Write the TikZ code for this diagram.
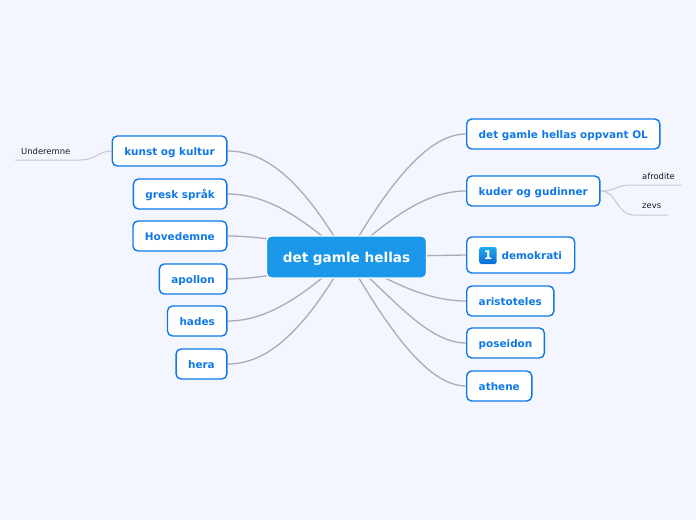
\documentclass[tikz,border=0pt]{standalone}
\usepackage{fontspec}
\setmainfont{DejaVu Sans}
\usepackage{xcolor}
\usetikzlibrary{backgrounds,positioning}
\definecolor{pagebg}{HTML}{F3F6FF}
\definecolor{rootblue}{HTML}{1A97E8}
\definecolor{topicblue}{HTML}{0F78E6}
\definecolor{linkgray}{HTML}{ABABB4}
\definecolor{sublink}{HTML}{C6C6CE}
\definecolor{icontop}{HTML}{22A8F0}
\definecolor{iconbot}{HTML}{0A6ED2}

\begin{document}
\begin{tikzpicture}[x=1pt,y=-1pt,
  root/.style={draw=white,line width=1.2pt,fill=rootblue,rounded corners=5pt,text=white,
               font=\fontsize{13.6}{16}\selectfont\bfseries,minimum width=160pt,minimum height=42pt,
               inner sep=0pt,text height=10pt,text depth=0pt},
  topic/.style={draw=topicblue,line width=1.4pt,fill=white,rounded corners=5pt,text=topicblue,
                font=\fontsize{10.45}{13}\selectfont\bfseries,minimum height=30pt,inner xsep=12pt,
                inner ysep=0pt,text height=8pt,text depth=0pt},
  sub/.style={font=\fontsize{8.4}{10}\selectfont,text=black!90,inner sep=0pt},
  icon/.style={top color=icontop,bottom color=iconbot,rounded corners=2pt,text=white,minimum size=17pt,
               inner sep=0pt,font=\fontsize{12}{12}\selectfont\bfseries},
  link/.style={draw=linkgray,line width=1.3pt},
  sublink/.style={draw=sublink,line width=1pt}]
  \useasboundingbox (0,0) rectangle (696,520);
  \node[root] (hellas) at (346.5,257) {det gamle hellas};
  % right side
  \node[topic,anchor=west] (oppvant) at (466,134) {det gamle hellas oppvant OL};
  \node[topic,anchor=west] (kuder) at (466,191) {kuder og gudinner};
  \node[topic,anchor=west,minimum width=108pt,minimum height=36pt] (demokrati) at (466,255) {\hspace*{22pt}demokrati};
  \node[icon] (ikon) at (488,255.5) {1};
  \node[topic,anchor=west] (aristoteles) at (466,301) {aristoteles};
  \node[topic,anchor=west] (poseidon) at (466,343) {poseidon};
  \node[topic,anchor=west] (athene) at (466,386) {athene};
  % left side
  \node[topic,anchor=east] (kunst) at (227.5,151) {kunst og kultur};
  \node[topic,anchor=east] (gresk) at (227.5,194) {gresk språk};
  \node[topic,anchor=east] (hovedemne) at (227.5,236) {Hovedemne};
  \node[topic,anchor=east] (apollon) at (227.5,279) {apollon};
  \node[topic,anchor=east] (hades) at (227.5,321) {hades};
  \node[topic,anchor=east] (hera) at (227.5,364) {hera};
  % sub topics
  \node[sub,anchor=base west] (underemne) at (21,154) {Underemne};
  \node[sub,anchor=base west] (afrodite) at (642,179) {afrodite};
  \node[sub,anchor=base west] (zevs) at (642,208) {zevs};
  \coordinate (underemneend) at (15,160);
  \coordinate (underemneknee) at (80,160);
  \coordinate (afroditeend) at (681,185);
  \coordinate (afroditeknee) at (632,185);
  \coordinate (zevsend) at (668,215);
  \coordinate (zevsknee) at (635,215);
  \begin{scope}[on background layer]
    \fill[pagebg] (0,0) rectangle (696,520);
    \draw[link] (hellas.center) .. controls (301,178) and (265,151) .. (kunst.east);
    \draw[link] (hellas.center) .. controls (300,215) and (265,194) .. (gresk.east);
    \draw[link] (hellas.center) .. controls (310,245) and (265,236) .. (hovedemne.east);
    \draw[link] (hellas.center) .. controls (310,268) and (265,279) .. (apollon.east);
    \draw[link] (hellas.center) .. controls (300,299) and (265,321) .. (hades.east);
    \draw[link] (hellas.center) .. controls (301,336) and (265,364) .. (hera.east);
    \draw[link] (hellas.center) .. controls (392,178) and (430,134) .. (oppvant.west);
    \draw[link] (hellas.center) .. controls (393,215) and (428,191) .. (kuder.west);
    \draw[link] (hellas.center) -- (demokrati.west);
    \draw[link] (hellas.center) .. controls (395,285) and (430,301) .. (aristoteles.west);
    \draw[link] (hellas.center) .. controls (393,298) and (428,343) .. (poseidon.west);
    \draw[link] (hellas.center) .. controls (392,336) and (430,386) .. (athene.west);
    \draw[sublink] (kunst.west) .. controls (98,151) and (96,160) .. (underemneknee) -- (underemneend);
    \draw[sublink] (kuder.east) .. controls (618,191) and (615,185) .. (afroditeknee) -- (afroditeend);
    \draw[sublink] (kuder.east) .. controls (618,191) and (615,215) .. (zevsknee) -- (zevsend);
  \end{scope}
\end{tikzpicture}
\end{document}
